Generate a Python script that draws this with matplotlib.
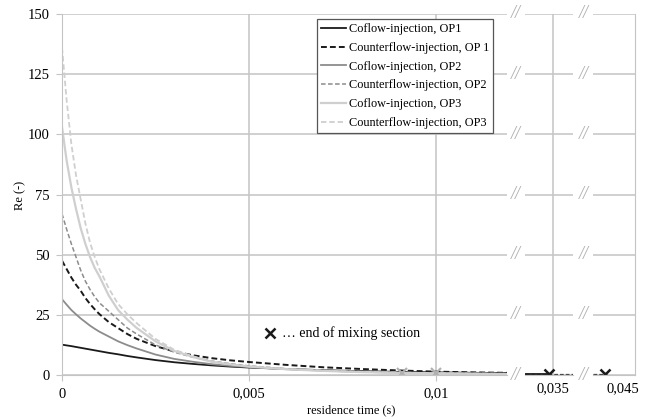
import matplotlib.pyplot as plt
import numpy as np

plt.rcParams['font.family'] = ['Liberation Serif', 'DejaVu Serif']

# residence time (s) for the first axis segment
t = np.array([0, 0.000125, 0.00025, 0.000375, 0.0005, 0.000625, 0.00075, 0.000875, 0.001,
              0.00125, 0.0015, 0.00175, 0.002, 0.0025, 0.003, 0.0035, 0.004, 0.0045,
              0.005, 0.006, 0.007, 0.008, 0.009, 0.010, 0.011, 0.0119])

# Re (-)
co_op1 = np.array([12.6, 12.3, 12.0, 11.65, 11.3, 10.95, 10.6, 10.25, 9.9,
                   9.2, 8.6, 7.9, 7.3, 6.2, 5.3, 4.6, 4.0, 3.5,
                   3.1, 2.5, 2.0, 1.6, 1.3, 1.1, 0.9, 0.8])
counter_op1 = np.array([47.5, 44.0, 40.5, 37.5, 35.0, 32.0, 29.5, 27.3, 25.3,
                        22.0, 19.5, 17.0, 15.0, 12.0, 9.8, 8.2, 7.0, 6.1,
                        5.4, 4.2, 3.2, 2.5, 1.9, 1.4, 1.1, 0.9])
co_op2 = np.array([31.5, 29.2, 27.0, 25.2, 23.5, 22.0, 20.5, 19.2, 18.0,
                   16.0, 14.0, 12.4, 11.0, 8.5, 6.7, 5.5, 4.5, 3.8,
                   3.3, 2.4, 1.8, 1.3, 1.0, 0.8, 0.6, 0.5])
counter_op2 = np.array([67.0, 60.5, 54.5, 49.0, 43.5, 39.0, 35.5, 32.5, 30.0,
                        26.5, 23.0, 19.5, 17.0, 12.5, 9.5, 7.4, 5.8, 4.7,
                        3.8, 2.6, 1.9, 1.4, 1.1, 0.8, 0.6, 0.5])
co_op3 = np.array([103.0, 89.0, 78.0, 69.0, 61.0, 54.5, 49.0, 44.5, 41.0,
                   33.0, 27.0, 23.0, 19.5, 14.0, 10.0, 7.5, 5.5, 4.4,
                   3.5, 2.4, 1.7, 1.2, 0.9, 0.7, 0.5, 0.4])
counter_op3 = np.array([136.0, 114.0, 96.0, 83.0, 73.0, 63.0, 55.0, 49.0, 44.0,
                        36.0, 29.5, 25.2, 21.5, 15.0, 10.5, 7.8, 5.6, 4.5,
                        3.6, 2.5, 1.8, 1.3, 1.0, 0.7, 0.6, 0.5])

# tails after the axis breaks (OP1 only)
t_seg2 = [0.0335, 0.0348]
co_op1_seg2 = [0.4, 0.4]
t_seg2_counter = [0.0335, 0.0361]
counter_op1_seg2 = [0.4, 0.4]
t_seg3 = [0.0435, 0.0441]
counter_op1_seg3 = [0.3, 0.3]

# end of mixing section markers
mix_t_light = [0.0091, 0.0100]
mix_re_light = [0.9, 0.7]
mix_t_op1 = [0.0348, 0.0441]
mix_re_op1 = [0.4, 0.3]

labels = ['Coflow-injection, OP1', 'Counterflow-injection, OP 1',
          'Coflow-injection, OP2', 'Counterflow-injection, OP2',
          'Coflow-injection, OP3', 'Counterflow-injection, OP3']
yticks = [0, 25, 50, 75, 100, 125, 150]

dash = (0, (3, 1.6))
black = '#1a1a1a'
mid = '#8c8c8c'
light = '#cfcfcf'
grid_c = '#c4c4c4'

W, H = 649, 418
fig = plt.figure(figsize=(W / 100, H / 100), dpi=100)


def box(x0, x1, y0=14, y1=375):
    return [x0 / W, 1 - y1 / H, (x1 - x0) / W, (y1 - y0) / H]


ax1 = fig.add_axes(box(62, 507))
ax2 = fig.add_axes(box(525, 573), sharey=ax1)
ax3 = fig.add_axes(box(593, 635), sharey=ax1)

ax1.plot(t, co_op1, color=black, lw=1.3, label=labels[0])
ax1.plot(t, counter_op1, color=black, lw=1.4, ls=dash, label=labels[1])
ax1.plot(t, co_op2, color=mid, lw=1.3, label=labels[2])
ax1.plot(t, counter_op2, color=mid, lw=1.1, ls=dash, label=labels[3])
ax1.plot(t, co_op3, color=light, lw=1.6, label=labels[4])
ax1.plot(t, counter_op3, color=light, lw=1.3, ls=dash, label=labels[5])
ax1.plot(mix_t_light, mix_re_light, ls='none', marker='x', color='#b0b0b0', ms=7, mew=1.5)

ax2.plot(t_seg2_counter, counter_op1_seg2, color='#444444', lw=0.9, ls=dash)
ax2.plot(t_seg2, co_op1_seg2, color=black, lw=1.3)
ax3.plot(t_seg3, counter_op1_seg3, color='#444444', lw=0.9, ls=dash)
ax2.plot(mix_t_op1[:1], mix_re_op1[:1], ls='none', marker='x', color=black, ms=7, mew=1.8)
ax3.plot(mix_t_op1[1:], mix_re_op1[1:], ls='none', marker='x', color=black, ms=7, mew=1.8)

ax1.set_xlim(0, 0.0119)
ax2.set_xlim(0.0335, 0.0361)
ax3.set_xlim(0.0435, 0.0456)
ax1.set_ylim(0, 150)
ax1.set_yticks(yticks)
ax1.set_yticklabels([str(v) for v in yticks])
ax1.set_xticks([0, 0.005, 0.01])
ax1.set_xticklabels(['0', '0,005', '0,01'])
ax2.set_xticks([0.035])
ax2.set_xticklabels(['0,035'])
ax3.set_xticks([0.045])
ax3.set_xticklabels(['0,045'])

for ax in (ax1, ax2, ax3):
    for s in ax.spines.values():
        s.set_visible(False)
    ax.spines['bottom'].set_visible(True)
    ax.spines['bottom'].set_color(grid_c)
    ax.grid(axis='y', color=grid_c, lw=1.1)
    ax.set_axisbelow(True)
    ax.tick_params(axis='x', length=4, color=grid_c, labelsize=10.5, pad=5)
    ax.tick_params(axis='y', length=4, color=grid_c, labelsize=10.5, pad=5)
ax1.spines['left'].set_visible(True)
ax1.spines['left'].set_color(grid_c)
ax1.grid(axis='x', color=grid_c, lw=1.1)
ax2.grid(axis='x', color=grid_c, lw=1.1)
ax2.tick_params(axis='y', left=False, labelleft=False)
ax3.tick_params(axis='y', left=False, labelleft=False)
ax3.tick_params(axis='x', length=0)
ax3.spines['right'].set_visible(True)
ax3.spines['right'].set_color(grid_c)
ax2.tick_params(axis='x', length=0)

# axis break marks between the segments
for v in yticks:
    yf = 1 - (375 - v * 361 / 150) / H
    for xp in (516, 584):
        fig.text(xp / W, yf, '//', color='#b0b0b0', fontsize=13, ha='center', va='center',
                 style='italic')

ax1.plot([0.00556], [17.4], ls='none', marker='x', color=black, ms=7, mew=1.8)
ax1.text(0.00588, 17.4, '\u2026 end of mixing section', fontsize=10, va='center')

leg = ax1.legend(loc='upper left', bbox_to_anchor=(317 / W, 1 - 19 / H),
                 bbox_transform=fig.transFigure, borderaxespad=0, fancybox=False,
                 framealpha=1, edgecolor='#555555', fontsize=8.8, handlelength=2.0,
                 handletextpad=0.25, labelspacing=0.55, borderpad=0.35)
leg.get_frame().set_linewidth(0.9)

fig.text(351 / W, 1 - 410 / H, 'residence time (s)', fontsize=9, ha='center', va='center')
fig.text(20 / W, 1 - 195 / H, 'Re (-)', fontsize=9, rotation=90, ha='center', va='center')

fig.savefig('out.png', dpi=100)
